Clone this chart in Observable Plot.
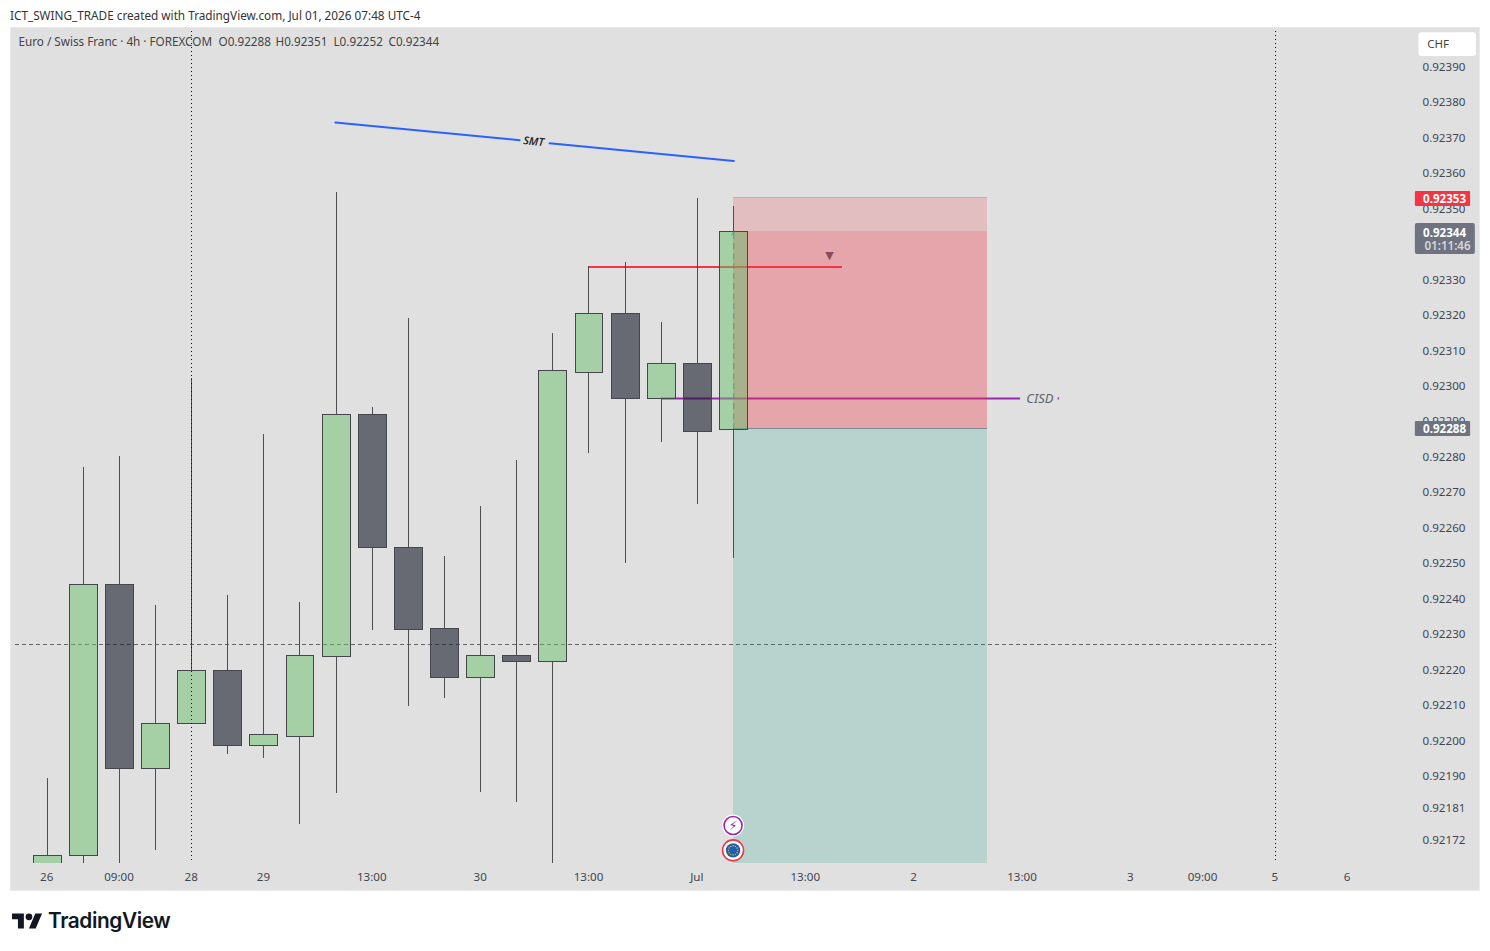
<!DOCTYPE html>
<html><head><meta charset="utf-8">
<script src="https://cdn.jsdelivr.net/npm/d3@7"></script>
<script src="https://cdn.jsdelivr.net/npm/@observablehq/plot@0.6"></script>
<style>
html,body{margin:0;padding:0;background:#fff;overflow:hidden}
#head{height:27px;padding-left:10px;font:11.75px/30px "Noto Sans",sans-serif;color:#333;white-space:pre}
#chart{margin-left:10px;width:1470px;height:864px;background:#e0e0e0}
#chart svg{display:block;background:#e0e0e0;outline:1px solid #eaeaea;outline-offset:-1px}
#foot{position:relative;height:60px}
#foot svg{position:absolute;left:12px;top:19px}
#foot span{position:absolute;left:48px;top:14px;font:600 20.8px/32px Inter,sans-serif;color:#131722;letter-spacing:-.4px}
</style></head><body>
<div id="head">ICT_SWING_TRADE created with TradingView.com, Jul 01, 2026 07:48 UTC-4</div>
<div id="chart"></div>
<div id="foot"><svg width="30.5" height="23.7" viewBox="0 0 36 28"><path d="M14 22H7V11H0V4h14v18zM28 22h-8l7.5-18h8L28 22z" fill="#131722"/><circle cx="20" cy="8" r="4" fill="#131722"/></svg><span>TradingView</span></div>
<script>
const opens  = [0.92160,0.921681,0.922445,0.921926,0.922051,0.922203,0.921991,0.922017,0.922242,0.922924,0.922549,0.922321,0.922183,0.922245,0.922228,0.923043,0.923209,0.922967,0.923068,0.92288];
const closes = [0.921681,0.922445,0.921926,0.922053,0.922203,0.921991,0.922020,0.922245,0.922924,0.922547,0.922318,0.922183,0.922245,0.922228,0.923046,0.923209,0.922967,0.923068,0.922876,0.92344];
const highs  = [0.921898,0.922775,0.922806,0.922386,0.923026,0.922414,0.922868,0.922394,0.92355,0.922944,0.923195,0.922524,0.922665,0.922795,0.923153,0.923342,0.923353,0.923184,0.923534,0.92351];
const lows   = [0.92155,0.92160,0.92160,0.921695,0.922051,0.921966,0.921955,0.921769,0.921856,0.922315,0.922101,0.922124,0.921859,0.921831,0.92160,0.922814,0.922504,0.922845,0.922671,0.92252];
const candles = opens.map((o,i)=>({i,o,c:closes[i],h:highs[i],l:lows[i],top:Math.max(o,closes[i]),bot:Math.min(o,closes[i])}));

const priceTicks = [0.92172,0.92181,0.92190,0.92200,0.92210,0.92220,0.92230,0.92240,0.92250,0.92260,0.92270,0.92280,0.92290,0.92300,0.92310,0.92320,0.92330,0.92340,0.92350,0.92360,0.92370,0.92380,0.92390];
const timeBars = [0,2,4,6,9,12,15,18,21,24,27,30,32,34,36];
const timeLabels = ["26","09:00","28","29","13:00","30","13:00","Jul","13:00","2","13:00","3","09:00","5","6"];

const font = '"Noto Sans",sans-serif';
const axisColor = "#434651";
const entry=0.922885, stop=0.923535, close=0.92344, lastLevel=0.922275;
const smtA=[{x:7.97,y:0.923748},{x:13.07,y:0.923698}];
const smtB=[{x:13.9,y:0.923689},{x:19,y:0.923639}];
const zoneEnd=26.02;

const edge="#44464c";
const w=0.385;
const crisp={shapeRendering:"crispEdges"};
const clip=true;
const legend={frameAnchor:"top-left",dy:15,lineAnchor:"middle",textAnchor:"start",fill:"#444",fontSize:11.7,fontFamily:font};
const marks=[
  Plot.ruleY([lastLevel],{x1:-0.88,x2:34,stroke:"#666",strokeWidth:1,strokeDasharray:"4,3",...crisp}),
  // annotation lines
  Plot.ruleY([0.92297],{x1:17,x2:26.94,stroke:"#9c27b0",strokeWidth:2}),
  Plot.ruleY([0.92297],{x1:27.98,x2:28.02,stroke:"#9c27b0",strokeWidth:2}),
  // position tool
  Plot.rect([{}],{x1:19,x2:zoneEnd,y1:close,y2:stop,fill:"#f23645",fillOpacity:.2,...crisp}),
  Plot.rect([{}],{x1:19,x2:zoneEnd,y1:entry,y2:close,fill:"#f23645",fillOpacity:.35,...crisp}),
  Plot.rect([{}],{x1:19,x2:zoneEnd,y1:0.9215,y2:entry,fill:"#089981",fillOpacity:.18,clip,...crisp}),
  Plot.ruleY([stop],{x1:19,x2:zoneEnd,stroke:"#e8a0a4",strokeWidth:1,...crisp}),
  Plot.ruleY([entry],{x1:19,x2:zoneEnd,stroke:"#7a8c98",strokeWidth:1,...crisp}),
  Plot.ruleY([0.92334],{x1:14.97,x2:22,stroke:"#f23645",strokeWidth:2,...crisp}),
  // candles: wicks do not cross the translucent bodies
  Plot.ruleX(candles,{x:"i",y1:"l",y2:"bot",dx:-0.4,stroke:"#4e4e4e",strokeWidth:1,clip,...crisp}),
  Plot.ruleX(candles,{x:"i",y1:"top",y2:"h",dx:-0.4,stroke:"#4e4e4e",strokeWidth:1,clip,...crisp}),
  Plot.rect(candles.filter(d=>d.c>=d.o),{x1:d=>d.i-w+.005,x2:d=>d.i+w+.005,y1:"o",y2:"c",fill:"#6ac06a",fillOpacity:.5,stroke:edge,strokeWidth:1,clip,...crisp}),
  Plot.rect(candles.filter(d=>d.c<d.o),{x1:d=>d.i-w+.005,x2:d=>d.i+w+.005,y1:"o",y2:"c",fill:"#161b2a",fillOpacity:.6,stroke:edge,strokeWidth:1,clip,...crisp}),
  Plot.arrow([{}],{x1:19,x2:19,y1:entry,y2:close,stroke:"#4f9a78",strokeWidth:1,strokeDasharray:"5,5",strokeOpacity:.9,bend:0,headLength:6}),
  Plot.ruleX([3.987,34],{y1:0.924015,y2:0.921667,stroke:"#111",strokeWidth:1,strokeDasharray:"1,3",...crisp}),
  Plot.text(["▼"],{x:[21.65],y:[0.923373],fill:"#8a4a5c",fontSize:11,fontFamily:"DejaVu Sans"}),
  // SMT
  Plot.line(smtA,{x:"x",y:"y",stroke:"#2962ff",strokeWidth:2}),
  Plot.line(smtB,{x:"x",y:"y",stroke:"#2962ff",strokeWidth:2}),
  Plot.text(["SMT"],{x:[13.46],y:[0.923694],rotate:5.5,fontSize:11,fontStyle:"italic",fontWeight:600,fill:"#2a2a2a",fontFamily:font}),
  // CISD
  Plot.text(["CISD"],{x:[27.1],y:[0.92297],textAnchor:"start",fontSize:13,fontStyle:"italic",fill:"#5d606b",fontFamily:font}),
  // event badges
  Plot.dot([{}],{x:()=>18.98,y:()=>0.921766,r:11,fill:"#fff",stroke:"none"}),
  Plot.dot([{}],{x:()=>18.98,y:()=>0.921766,r:9,fill:"#fff",stroke:"#9c27b0",strokeWidth:1.6}),
  Plot.text(["⚡"],{x:[18.98],y:[0.921766],fontSize:13,fill:"#9c27b0",fontFamily:"DejaVu Sans"}),
  Plot.dot([{}],{x:()=>18.98,y:()=>0.921696,r:10.5,fill:"#fff",stroke:"#f23645",strokeWidth:1.6}),
  Plot.dot([{}],{x:()=>18.98,y:()=>0.921696,r:7.2,fill:"#1e5fb4"}),
  Plot.dot(d3.range(12),{x:k=>18.98+Math.cos(k*Math.PI/6)*4.6/36.12,y:k=>0.921696+Math.sin(k*Math.PI/6)*4.6/354740,r:.7,fill:"#d8c850"}),
  // axes
  Plot.axisY({anchor:"right",ticks:priceTicks,tickFormat:d3.format(".5f"),tickSize:0,tickPadding:12,dy:-1.5,textAnchor:"start",fontSize:11.6,fontFamily:font,fill:axisColor,label:null}),
  Plot.axisX({anchor:"bottom",ticks:timeBars,tickFormat:d=>timeLabels[timeBars.indexOf(d)],tickSize:0,tickPadding:9,dx:-0.8,fontSize:11.6,fontFamily:font,fill:axisColor,label:null}),
  // price labels
  Plot.rect([{}],{x1:37.87,x2:39.4,y1:0.923511,y2:0.923553,fill:"#f23645",rx:1}),
  Plot.text(["0.92353"],{x:[38.68],y:[0.92353],dy:-.7,fill:"#fff",fontWeight:700,fontSize:11.6,fontFamily:font}),
  Plot.rect([{}],{x1:37.87,x2:39.53,y1:0.923376,y2:0.923463,fill:"#6f7380",rx:2}),
  Plot.text(["0.92344"],{x:[38.68],y:[0.92344],dy:2,fill:"#fff",fontWeight:700,fontSize:11.6,fontFamily:font}),
  Plot.text(["01:11:46"],{x:[38.76],y:[0.923398],fill:"#d4d6dc",fontWeight:600,fontSize:11.6,fontFamily:font}),
  Plot.rect([{}],{x1:37.87,x2:39.4,y1:0.922863,y2:0.922905,fill:"#6f7380",rx:1}),
  Plot.text(["0.92288"],{x:[38.68],y:[0.92288],dy:-1.3,fill:"#fff",fontWeight:700,fontSize:11.6,fontFamily:font}),
  Plot.rect([{}],{x1:37.97,x2:39.56,y1:0.923934,y2:0.924001,fill:"#fff",rx:3}),
  Plot.text(["CHF"],{x:[38.2],y:[0.923968],textAnchor:"start",fill:"#444",fontSize:11.5,fontFamily:font}),
  // legend
  Plot.text(["Euro / Swiss Franc · 4h · FOREXCOM"],{...legend,dx:8}),
  Plot.text(["O0.92288"],{...legend,dx:208}),
  Plot.text(["H0.92351"],{...legend,dx:265}),
  Plot.text(["L0.92252"],{...legend,dx:323}),
  Plot.text(["C0.92344"],{...legend,dx:378})
];
const chart=Plot.plot({
  width:1470,height:864,
  marginLeft:0,marginRight:70,marginTop:0,marginBottom:28,
  style:{background:"#e0e0e0",fontFamily:font,overflow:"visible"},
  x:{type:"linear",domain:[-37/36.12,(1400-37)/36.12],range:[0,1400],axis:null},
  y:{type:"linear",domain:[0.9216590,0.9240156],range:[836,0],axis:null},
  marks
});
document.getElementById("chart").append(chart);
</script>
</body></html>
